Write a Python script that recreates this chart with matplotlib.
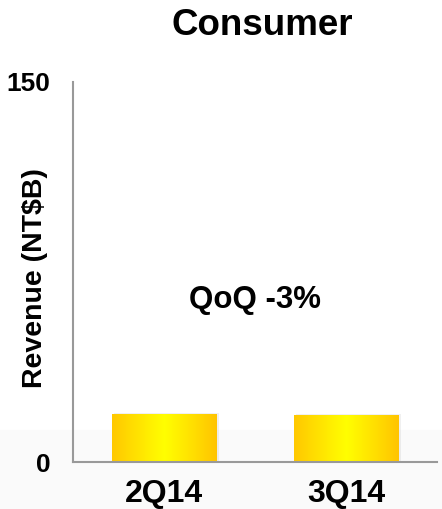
import numpy as np
import matplotlib.pyplot as plt
from matplotlib.colors import LinearSegmentedColormap
from matplotlib.patches import Rectangle

plt.rcParams['font.family'] = ['Liberation Sans', 'DejaVu Sans']
plt.rcParams['font.weight'] = 'bold'

quarters = ['2Q14', '3Q14']
revenue = [18.9, 18.4]
qoq_text = 'QoQ -3%'

fig = plt.figure(figsize=(4.42, 5.09), dpi=100)

# faint grey band at the bottom of the slide
band = Rectangle((0, 0), 1, 0.155, transform=fig.transFigure,
                 color='#fafafa', zorder=-5)
fig.patches.append(band)

ax = fig.add_axes([0.165, 0.0923, 0.824, 0.7466])
ax.patch.set_alpha(0)

bars = ax.bar(range(len(quarters)), revenue, width=0.575, color='none')

gold = LinearSegmentedColormap.from_list('gold', ['#ffc800', '#ffff00', '#ffc400'])
grad = np.linspace(0, 1, 256).reshape(1, -1)
for b in bars:
    x0, y0 = b.get_x(), b.get_y()
    w, h = b.get_width(), b.get_height()
    # soft shadow
    ax.add_patch(Rectangle((x0 + 0.012, y0), w, h + 0.4, color='#000000',
                           alpha=0.06, zorder=1, lw=0))
    ax.imshow(grad, cmap=gold, aspect='auto', extent=(x0, x0 + w, y0, y0 + h),
              zorder=2)

ax.set_xlim(-0.5, 1.5)
ax.set_ylim(0, 150)
ax.set_yticks([0, 150])
ax.set_xticks(range(len(quarters)))
ax.set_xticklabels(quarters, fontsize=23, fontweight='bold')
ax.tick_params(axis='y', labelsize=19, length=0, pad=16)
ax.tick_params(axis='x', length=0, pad=12)
for lab in ax.get_yticklabels():
    lab.set_fontweight('bold')

for s in ['top', 'right']:
    ax.spines[s].set_visible(False)
for s in ['left', 'bottom']:
    ax.spines[s].set_color('#999999')
    ax.spines[s].set_linewidth(1.5)

ax.set_ylabel('Revenue (NT$B)', fontsize=20.5, fontweight='bold')
ax.yaxis.set_label_coords(-0.104, 0.484)
ax.yaxis.label.set_va('center')

ax.text(0.5, 64, qoq_text, fontsize=22.5, fontweight='bold',
        ha='center', va='center')

fig.text(0.594, 0.949, 'Consumer', fontsize=26.5, fontweight='bold',
         ha='center', va='center')

fig.savefig('out.png', dpi=100)
